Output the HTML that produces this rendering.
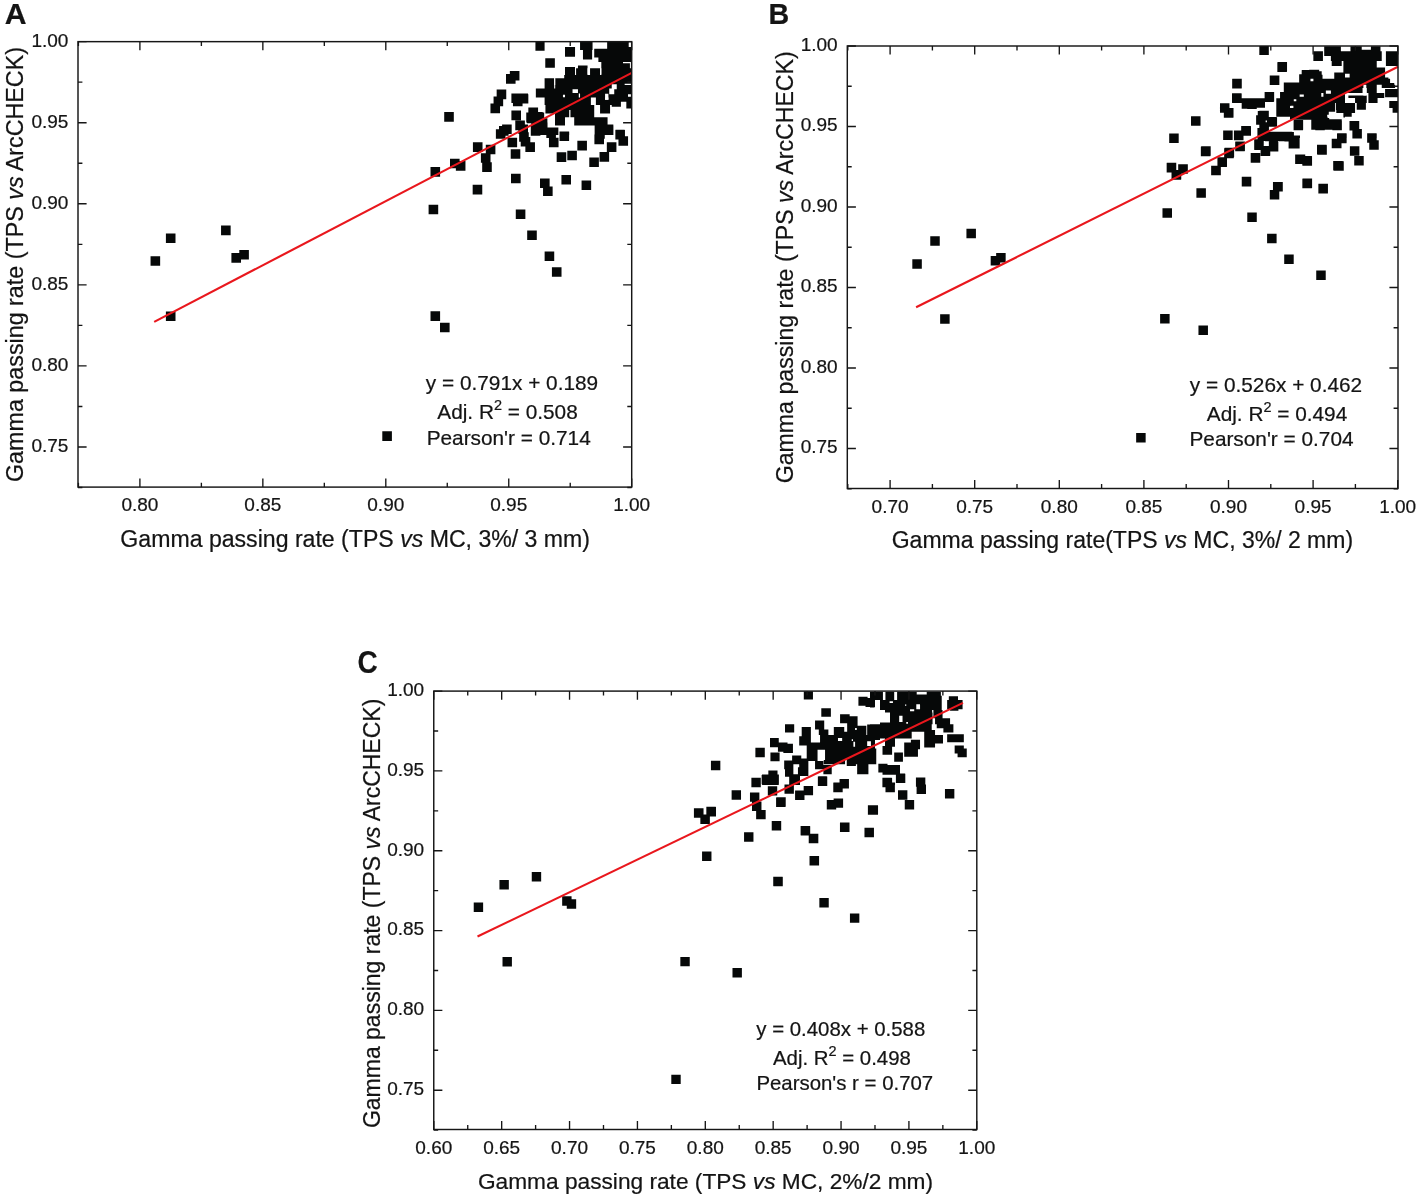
<!DOCTYPE html>
<html><head><meta charset="utf-8"><title>Gamma passing rate correlation</title>
<style>
html,body{margin:0;padding:0;background:#fff}
body{width:1418px;height:1199px;overflow:hidden}
svg{display:block;will-change:transform}
text{font-family:"Liberation Sans",sans-serif;fill:#141414;stroke:#141414;stroke-width:0.22px}
</style></head><body>
<svg width="1418" height="1199" viewBox="0 0 1418 1199">
<rect width="1418" height="1199" fill="#fff"/>
<g id="panelA">
<clipPath id="clipA"><rect x="78" y="41.65" width="553.7" height="445.45"/></clipPath>
<path clip-path="url(#clipA)" fill="#060808" d="M150.55 256.24h9.6v9.6h-9.6zM165.9 233.51h9.6v9.6h-9.6zM221.05 225.55h9.6v9.6h-9.6zM231.41 253.08h9.6v9.6h-9.6zM239.28 250.01h9.6v9.6h-9.6zM165.9 311.4h9.6v9.6h-9.6zM430.5 167.07h9.6v9.6h-9.6zM450 158.67h9.6v9.6h-9.6zM455.86 161.05h9.6v9.6h-9.6zM480.91 153.13h9.6v9.6h-9.6zM482.18 162.32h9.6v9.6h-9.6zM472.67 184.83h9.6v9.6h-9.6zM428.6 204.64h9.6v9.6h-9.6zM511.02 173.73h9.6v9.6h-9.6zM510.71 149.16h9.6v9.6h-9.6zM515.78 209.39h9.6v9.6h-9.6zM527.19 230.48h9.6v9.6h-9.6zM544.63 251.4h9.6v9.6h-9.6zM551.92 267.25h9.6v9.6h-9.6zM540.03 178.49h9.6v9.6h-9.6zM543.04 186.41h9.6v9.6h-9.6zM561.43 175h9.6v9.6h-9.6zM556.67 152.33h9.6v9.6h-9.6zM567.29 150.75h9.6v9.6h-9.6zM581.56 180.39h9.6v9.6h-9.6zM430.5 311.31h9.6v9.6h-9.6zM440.01 322.72h9.6v9.6h-9.6zM444.21 112.09h9.6v9.6h-9.6zM472.92 142.35h9.6v9.6h-9.6zM485.8 144.67h9.6v9.6h-9.6zM507.52 137.69h9.6v9.6h-9.6zM577.34 140.79h9.6v9.6h-9.6zM589.29 157.4h9.6v9.6h-9.6zM599.53 152.12h9.6v9.6h-9.6zM606.82 142.35h9.6v9.6h-9.6zM615.36 129.93h9.6v9.6h-9.6zM618.46 136.14h9.6v9.6h-9.6zM594.41 134.59h9.6v9.6h-9.6zM595.18 129.16h9.6v9.6h-9.6zM603.72 124.5h9.6v9.6h-9.6zM496.66 89.59h9.6v9.6h-9.6zM493.56 96.57h9.6v9.6h-9.6zM490.45 103.56h9.6v9.6h-9.6zM509.85 70.97h9.6v9.6h-9.6zM505.97 74.08h9.6v9.6h-9.6zM511.4 93.47h9.6v9.6h-9.6zM518.38 93.47h9.6v9.6h-9.6zM512.95 96.57h9.6v9.6h-9.6zM511.4 110.54h9.6v9.6h-9.6zM498.99 126.05h9.6v9.6h-9.6zM495.88 129.16h9.6v9.6h-9.6zM502.09 124.5h9.6v9.6h-9.6zM515.28 120.62h9.6v9.6h-9.6zM518.38 124.5h9.6v9.6h-9.6zM519.16 132.26h9.6v9.6h-9.6zM520.71 136.91h9.6v9.6h-9.6zM525.36 142.35h9.6v9.6h-9.6zM546.31 128.38h9.6v9.6h-9.6zM548.95 137.69h9.6v9.6h-9.6zM559.5 131.48h9.6v9.6h-9.6zM528.47 107.43h9.6v9.6h-9.6zM533.12 112.09h9.6v9.6h-9.6zM526.91 113.64h9.6v9.6h-9.6zM537.78 118.3h9.6v9.6h-9.6zM530.79 126.05h9.6v9.6h-9.6zM534.67 121.4h9.6v9.6h-9.6zM382.3 431.3h9.6v9.6h-9.6zM535.43 41.26H544.6V50.85H535.43zM565.03 47.09H575.04V56.68H565.03zM545.27 58.19H554.86V67.78H545.27zM580.05 41.26H592.56V50.01H580.05zM582.96 50.01H592.14V59.6H582.96zM607.15 41.26H628.84V49.18H607.15zM630.92 41.26H632.59V75.03H630.92zM628.84 47.09H632.59V49.18H628.84zM594.22 48.76H632.59V57.52H594.22zM598.39 57.52H632.59V62.11H598.39zM601.31 61.69H623V75.03H601.31zM623 63.36H629.92V68.36H623zM623 68.36H632.59V75.03H623zM565.03 67.11H575.04V78.37H565.03zM576.04 68.36H587.55V78.37H576.04zM577.96 65.44H587.55V68.36H577.96zM590.05 68.36H600.06V78.37H590.05zM564.2 75.03H632.59V78.37H564.2zM544.6 78.37H554.19V88.38H544.6zM555.19 78.37H611.74V88.38H555.19zM616.74 78.37H632.59V83.79H616.74zM616.74 85.04H632.59V89.21H616.74zM616.74 83.79H624.67V85.04H616.74zM630.92 83.79H632.59V85.04H630.92zM611.74 78.37H616.74V84.21H611.74zM535.84 88.38H572.54V97.55H535.84zM572.54 92.96H609.24V97.55H572.54zM577.96 88.38H609.24V93.38H577.96zM572.54 88.38H577.96V89.21H572.54zM614.24 89.21H632.59V97.55H614.24zM608.4 94.22H614.24V97.55H608.4zM544.6 97.55H590.89V105.06H544.6zM595.89 97.55H605.07V105.06H595.89zM608.4 97.55H620.91V105.06H608.4zM620.91 97.55H632.59V101.72H620.91zM626.33 101.72H632.59V105.06H626.33zM605.07 99.64H608.4V105.06H605.07zM545.43 105.06H594.22V110.06H545.43zM600.06 105.06H610.07V113.4H600.06zM611.74 105.06H620.91V106.73H611.74zM626.33 105.06H632.59V108.39H626.33zM528.34 107.56H537.93V117.15H528.34zM526.25 112.56H544.18V122.57H526.25zM545.43 110.06H569.2V113.4H545.43zM555.03 113.4H569.2V117.15H555.03zM570.45 110.06H594.22V117.15H570.45zM555.03 117.15H565.03V125.49H555.03zM574.21 117.15H607.57V125.49H574.21zM531.26 122.57H547.52V135H531.26zM545.85 127.58H558.36V135H545.85zM560.03 131.75H569.2V135H560.03zM594.64 125.49H613.41V135H594.64zM615.49 129.66H624.67V135H615.49zM520 94.22H528.34V103.39H520z"/>
<path fill="#fff" d="M605.07 93.8H608.4V99.64H605.07zM562.95 94.63H565.03V97.14H562.95zM578.79 93.38H580.05V97.55H578.79zM628 94.22H630.92V96.72H628zM554.19 78.37H555.19V85.04H554.19zM575.04 67.11H576.04V75.03H575.04zM587.55 68.36H588.8V74.62H587.55zM600.06 68.36H601.31V74.62H600.06zM628.84 42.51H630.75V47.09H628.84z"/>
<line x1="154.2" y1="321.9" x2="631.7" y2="72.9" stroke="#e9171d" stroke-width="2.15"/>
<path d="M78.42 487.1v-4.4M78.42 41.65v4.4M139.9 487.1v-8.6M139.9 41.65v8.6M201.38 487.1v-4.4M201.38 41.65v4.4M262.85 487.1v-8.6M262.85 41.65v8.6M324.32 487.1v-4.4M324.32 41.65v4.4M385.8 487.1v-8.6M385.8 41.65v8.6M447.27 487.1v-4.4M447.27 41.65v4.4M508.75 487.1v-8.6M508.75 41.65v8.6M570.23 487.1v-4.4M570.23 41.65v4.4M631.7 487.1v-8.6M631.7 41.65v8.6M78 41.65h8.6M631.7 41.65h-8.6M78 82.19h4.4M631.7 82.19h-4.4M78 122.72h8.6M631.7 122.72h-8.6M78 163.25h4.4M631.7 163.25h-4.4M78 203.79h8.6M631.7 203.79h-8.6M78 244.32h4.4M631.7 244.32h-4.4M78 284.86h8.6M631.7 284.86h-8.6M78 325.4h4.4M631.7 325.4h-4.4M78 365.93h8.6M631.7 365.93h-8.6M78 406.46h4.4M631.7 406.46h-4.4M78 447h8.6M631.7 447h-8.6M78 487.53h4.4M631.7 487.53h-4.4" stroke="#161616" stroke-width="1.35" fill="none"/>
<rect x="78" y="41.65" width="553.7" height="445.45" fill="none" stroke="#161616" stroke-width="1.45"/>
<text x="139.9" y="511.1" font-size="19" text-anchor="middle">0.80</text>
<text x="262.85" y="511.1" font-size="19" text-anchor="middle">0.85</text>
<text x="385.8" y="511.1" font-size="19" text-anchor="middle">0.90</text>
<text x="508.75" y="511.1" font-size="19" text-anchor="middle">0.95</text>
<text x="631.7" y="511.1" font-size="19" text-anchor="middle">1.00</text>
<text x="68.4" y="46.55" font-size="19" text-anchor="end">1.00</text>
<text x="68.4" y="127.62" font-size="19" text-anchor="end">0.95</text>
<text x="68.4" y="208.69" font-size="19" text-anchor="end">0.90</text>
<text x="68.4" y="289.76" font-size="19" text-anchor="end">0.85</text>
<text x="68.4" y="370.83" font-size="19" text-anchor="end">0.80</text>
<text x="68.4" y="451.9" font-size="19" text-anchor="end">0.75</text>
<text transform="translate(4.7 24.4) scale(1 1)" font-size="30.2" font-weight="bold" fill="#0c0c0c" stroke="#0c0c0c" stroke-width="0.35">A</text>
<text x="355.2" y="547.2" font-size="23.1" text-anchor="middle" xml:space="preserve">Gamma passing rate (TPS <tspan font-style='italic'>vs</tspan> MC, 3%/ 3 mm)</text>
<text transform="translate(23 264.5) rotate(-90)" font-size="23.3" text-anchor="middle" xml:space="preserve">Gamma passing rate (TPS <tspan font-style="italic">vs</tspan> ArcCHECK)</text>
<text x="512" y="390" font-size="20.8" text-anchor="middle" xml:space="preserve">y = 0.791x + 0.189</text>
<text x="507.5" y="418.5" font-size="20.8" text-anchor="middle" xml:space="preserve">Adj. R<tspan dy='-8.2' font-size='14.5'>2</tspan><tspan dy='8.2'> = 0.508</tspan></text>
<text x="508.7" y="445" font-size="20.8" text-anchor="middle" xml:space="preserve">Pearson'r = 0.714</text>
</g>
<g id="panelB">
<clipPath id="clipB"><rect x="847.3" y="46" width="550.7" height="442.5"/></clipPath>
<path clip-path="url(#clipB)" fill="#060808" d="M912.32 259.17h9.5v9.5h-9.5zM930.26 236.34h9.5v9.5h-9.5zM966.43 228.67h9.5v9.5h-9.5zM990.69 256.1h9.5v9.5h-9.5zM996.16 252.94h9.5v9.5h-9.5zM940.14 314.13h9.5v9.5h-9.5zM1166.76 162.69h9.5v9.5h-9.5zM1178.18 164.27h9.5v9.5h-9.5zM1171.52 170.29h9.5v9.5h-9.5zM1200.84 146.84h9.5v9.5h-9.5zM1224.62 147.63h9.5v9.5h-9.5zM1217.48 157.14h9.5v9.5h-9.5zM1211.14 165.86h9.5v9.5h-9.5zM1260.76 146.04h9.5v9.5h-9.5zM1250.77 153.18h9.5v9.5h-9.5zM1295.15 154.44h9.5v9.5h-9.5zM1302.28 156.03h9.5v9.5h-9.5zM1317.34 145.25h9.5v9.5h-9.5zM1333.19 161.1h9.5v9.5h-9.5zM1241.74 176.95h9.5v9.5h-9.5zM1196.4 188.36h9.5v9.5h-9.5zM1162.48 208.18h9.5v9.5h-9.5zM1272.96 182.02h9.5v9.5h-9.5zM1269.79 189.95h9.5v9.5h-9.5zM1302.6 178.54h9.5v9.5h-9.5zM1318.45 183.77h9.5v9.5h-9.5zM1247.28 212.61h9.5v9.5h-9.5zM1267.1 233.7h9.5v9.5h-9.5zM1284.21 254.62h9.5v9.5h-9.5zM1316.23 270.47h9.5v9.5h-9.5zM1160.11 314.06h9.5v9.5h-9.5zM1198.46 325.47h9.5v9.5h-9.5zM1259.32 45.48h9.5v9.5h-9.5zM1277.35 62.62h9.5v9.5h-9.5zM1269.73 75.57h9.5v9.5h-9.5zM1232.28 78.87h9.5v9.5h-9.5zM1232.03 93.34h9.5v9.5h-9.5zM1242.19 98.16h9.5v9.5h-9.5zM1247.26 99.43h9.5v9.5h-9.5zM1255.51 98.16h9.5v9.5h-9.5zM1264.65 92.07h9.5v9.5h-9.5zM1219.97 103.24h9.5v9.5h-9.5zM1224.03 107.93h9.5v9.5h-9.5zM1191.03 116.19h9.5v9.5h-9.5zM1169.2 133.45h9.5v9.5h-9.5zM1223.15 130.53h9.5v9.5h-9.5zM1233.93 130.53h9.5v9.5h-9.5zM1241.17 126.09h9.5v9.5h-9.5zM1201.19 146.14h9.5v9.5h-9.5zM1235.2 141.7h9.5v9.5h-9.5zM1224.16 148.3h9.5v9.5h-9.5zM1217.43 157.57h9.5v9.5h-9.5zM1211.34 165.82h9.5v9.5h-9.5zM1250.69 153h9.5v9.5h-9.5zM1166.66 162.9h9.5v9.5h-9.5zM1178.34 164.17h9.5v9.5h-9.5zM1171.74 169.88h9.5v9.5h-9.5zM1241.8 176.86h9.5v9.5h-9.5zM1273.29 181.94h9.5v9.5h-9.5zM1259.32 110.85h9.5v9.5h-9.5zM1256.15 115.3h9.5v9.5h-9.5zM1267.57 117.2h9.5v9.5h-9.5zM1259.32 122.28h9.5v9.5h-9.5zM1257.42 127.99h9.5v9.5h-9.5zM1265.03 131.8h9.5v9.5h-9.5zM1273.92 131.8h9.5v9.5h-9.5zM1282.81 131.8h9.5v9.5h-9.5zM1254.24 140.43h9.5v9.5h-9.5zM1268.84 141.95h9.5v9.5h-9.5zM1260.59 146.4h9.5v9.5h-9.5zM1232.17 79.01h9.5v9.5h-9.5zM1269.87 75.43h9.5v9.5h-9.5zM1277.54 62.08h9.5v9.5h-9.5zM1223.83 108.2h9.5v9.5h-9.5zM1293.64 119.88h9.5v9.5h-9.5zM1257.78 111.12h9.5v9.5h-9.5zM1256.11 115.29h9.5v9.5h-9.5zM1266.95 116.96h9.5v9.5h-9.5zM1259.45 122.8h9.5v9.5h-9.5zM1241.51 126.3h9.5v9.5h-9.5zM1234.01 130.72h9.5v9.5h-9.5zM1223.16 130.47h9.5v9.5h-9.5zM1235.43 141.56h9.5v9.5h-9.5zM1224.25 148.65h9.5v9.5h-9.5zM1250.69 152.99h9.5v9.5h-9.5zM1316.99 144.65h9.5v9.5h-9.5zM1295.73 154.49h9.5v9.5h-9.5zM1302.56 156.16h9.5v9.5h-9.5zM1332.01 138.81h9.5v9.5h-9.5zM1337.01 133.81h9.5v9.5h-9.5zM1334.26 161.33h9.5v9.5h-9.5zM1293.59 120.67h9.5v9.5h-9.5zM1315.28 120.67h9.5v9.5h-9.5zM1323.2 120.25h9.5v9.5h-9.5zM1332.37 120.67h9.5v9.5h-9.5zM1349.47 121.08h9.5v9.5h-9.5zM1352.39 129.01h9.5v9.5h-9.5zM1284.42 131.93h9.5v9.5h-9.5zM1289.84 135.68h9.5v9.5h-9.5zM1288.59 139.02h9.5v9.5h-9.5zM1337.13 133.34h9.5v9.5h-9.5zM1331.71 138.77h9.5v9.5h-9.5zM1317.11 144.85h9.5v9.5h-9.5zM1367.15 133.34h9.5v9.5h-9.5zM1369.24 140.27h9.5v9.5h-9.5zM1349.89 146.27h9.5v9.5h-9.5zM1354.22 156.11h9.5v9.5h-9.5zM1295.26 154.45h9.5v9.5h-9.5zM1302.35 156.11h9.5v9.5h-9.5zM1334.04 161.28h9.5v9.5h-9.5zM1302.35 178.63h9.5v9.5h-9.5zM1318.36 184.05h9.5v9.5h-9.5zM1136.15 433.05h9.5v9.5h-9.5zM1324.2 46.34H1340.88V55.93H1324.2zM1350.47 46.34H1361.73V60.94H1350.47zM1370.9 46.34H1380.49V60.94H1370.9zM1313.35 51.34H1322.94V60.94H1313.35zM1330.87 51.34H1381.74V60.94H1330.87zM1340.88 52.6H1350.47V55.93H1340.88zM1361.73 49.68H1370.9V60.94H1361.73zM1385.91 51.34H1398.42V65.94H1385.91zM1331.7 60.94H1341.71V65.94H1331.7zM1343.38 60.94H1376.74V70.11H1343.38zM1373.4 67.61H1385.08V74.7H1373.4zM1309.18 69.69H1319.19V74.7H1309.18zM1301.68 71.36H1321.69V74.7H1301.68zM1335.04 72.61H1343.38V78.87H1335.04zM1343.38 70.11H1373.4V73.86H1343.38zM1349.63 73.86H1385.08V77.62H1349.63zM1343.38 73.86H1344.21V77.62H1343.38zM1343.38 77.62H1388.42V78.87H1343.38zM1299.17 74.7H1322.53V78.87H1299.17zM1299.17 78.87H1390.08V83.04H1299.17zM1290 83.04H1376.74V88.04H1290zM1381.74 84.71H1395.09V88.04H1381.74zM1376.74 83.04H1394.25V84.71H1376.74zM1290 88.04H1362.56V93.05H1290zM1366.73 88.04H1376.74V93.05H1366.73zM1385.08 88.88H1398.42V97.22H1385.08zM1290 93.05H1344.21V103.05H1290zM1348.38 95.55H1366.73V98.05H1348.38zM1355.05 98.05H1366.73V103.05H1355.05zM1368.4 93.05H1377.57V103.05H1368.4zM1377.57 93.05H1384.25V98.05H1377.57zM1389.25 100.97H1398.42V108.06H1389.25zM1290 103.05H1335.04V109.73H1290zM1336.29 103.05H1355.05V113.06H1336.29zM1356.72 103.05H1365.9V109.73H1356.72zM1392.59 108.06H1398.42V112.65H1392.59zM1290 109.73H1328.78V114.73H1290zM1343.38 113.06H1351.72V116.82H1343.38zM1290 114.73H1326.7V119.73H1290zM1294.17 120.57H1302.93V129.74H1294.17zM1311.27 119.73H1341.71V129.74H1311.27zM1311.27 118.07H1329.2V119.73H1311.27zM1350.05 120.99H1359.22V128.91H1350.05zM1355.05 128.91H1361.73V138H1355.05zM1290 132.25H1292.5V138H1290zM1292.5 135.58H1300.01V138H1292.5zM1337.54 133.91H1346.71V138H1337.54zM1367.15 133.91H1376.74V138H1367.15zM1232.09 93.77H1241.68V102.94H1232.09zM1241.68 98.36H1255.02V108.78H1241.68zM1255.02 98.36H1265.03V107.53H1255.02zM1264.61 92.1H1273.79V102.11H1264.61zM1283.79 82.51H1297.56V92.52H1283.79zM1299.22 74.17H1321.74V82.51H1299.22zM1301.73 70H1318.41V74.17H1301.73zM1321.74 79.17H1334.25V82.51H1321.74zM1334.25 72.5H1345.01V80.84H1334.25zM1297.56 82.51H1345.01V92.52H1297.56zM1280.04 92.1H1345.01V98.36H1280.04zM1276.29 98.36H1335.09V111.7H1276.29zM1276.29 111.7H1327.16V116.71H1276.29zM1335.92 98.36H1345.01V110.03H1335.92zM1343.43 110.03H1345.01V117.54H1343.43zM1295.05 116.71H1327.58V119.21H1295.05zM1311.32 119.21H1327.58V129.63H1311.32zM1327.58 119.21H1341.76V129.63H1327.58zM1257.52 132.14H1292.14V140.89H1257.52zM1289.63 136.31H1299.64V148.4H1289.63zM1254.19 139.22H1262.94V149.23H1254.19zM1269.2 140.89H1277.96V150.9H1269.2zM1261.28 145.9H1270.03V155.49H1261.28zM1254.19 140.89H1262.94V149.23H1254.19zM1268.78 139.22H1277.96V141.73H1268.78z"/>
<path fill="#fff" d="M1310.85 78.87H1313.35V80.95H1310.85zM1325.86 90.54H1330.87V93.46H1325.86zM1321.28 93.05H1323.36V96.8H1321.28zM1300.01 94.71H1303.76V96.8H1300.01zM1363.39 84.71H1366.31V95.55H1363.39zM1290 105.97H1293.34V108.06H1290zM1310.48 78.76H1313.4V81.26H1310.48zM1299.64 94.6H1303.81V96.69H1299.64zM1321.33 92.94H1323.41V96.69H1321.33zM1325.91 91.27H1330.92V93.77H1325.91zM1290.47 105.86H1293.39V107.95H1290.47zM1293.8 99.19H1296.31V101.28H1293.8z"/>
<line x1="916.1" y1="307.3" x2="1398" y2="66.7" stroke="#e9171d" stroke-width="2.15"/>
<path d="M847.8 488.5v-4.4M847.8 46v4.4M890.1 488.5v-8.6M890.1 46v8.6M932.4 488.5v-4.4M932.4 46v4.4M974.7 488.5v-8.6M974.7 46v8.6M1017 488.5v-4.4M1017 46v4.4M1059.3 488.5v-8.6M1059.3 46v8.6M1101.6 488.5v-4.4M1101.6 46v4.4M1143.9 488.5v-8.6M1143.9 46v8.6M1186.2 488.5v-4.4M1186.2 46v4.4M1228.5 488.5v-8.6M1228.5 46v8.6M1270.8 488.5v-4.4M1270.8 46v4.4M1313.1 488.5v-8.6M1313.1 46v8.6M1355.4 488.5v-4.4M1355.4 46v4.4M1397.7 488.5v-8.6M1397.7 46v8.6M847.3 46h8.6M1398 46h-8.6M847.3 86.25h4.4M1398 86.25h-4.4M847.3 126.5h8.6M1398 126.5h-8.6M847.3 166.75h4.4M1398 166.75h-4.4M847.3 207h8.6M1398 207h-8.6M847.3 247.25h4.4M1398 247.25h-4.4M847.3 287.5h8.6M1398 287.5h-8.6M847.3 327.75h4.4M1398 327.75h-4.4M847.3 368h8.6M1398 368h-8.6M847.3 408.25h4.4M1398 408.25h-4.4M847.3 448.5h8.6M1398 448.5h-8.6M847.3 488.75h4.4M1398 488.75h-4.4" stroke="#161616" stroke-width="1.35" fill="none"/>
<rect x="847.3" y="46" width="550.7" height="442.5" fill="none" stroke="#161616" stroke-width="1.45"/>
<text x="890.1" y="512.5" font-size="19" text-anchor="middle">0.70</text>
<text x="974.7" y="512.5" font-size="19" text-anchor="middle">0.75</text>
<text x="1059.3" y="512.5" font-size="19" text-anchor="middle">0.80</text>
<text x="1143.9" y="512.5" font-size="19" text-anchor="middle">0.85</text>
<text x="1228.5" y="512.5" font-size="19" text-anchor="middle">0.90</text>
<text x="1313.1" y="512.5" font-size="19" text-anchor="middle">0.95</text>
<text x="1397.7" y="512.5" font-size="19" text-anchor="middle">1.00</text>
<text x="837.7" y="50.9" font-size="19" text-anchor="end">1.00</text>
<text x="837.7" y="131.4" font-size="19" text-anchor="end">0.95</text>
<text x="837.7" y="211.9" font-size="19" text-anchor="end">0.90</text>
<text x="837.7" y="292.4" font-size="19" text-anchor="end">0.85</text>
<text x="837.7" y="372.9" font-size="19" text-anchor="end">0.80</text>
<text x="837.7" y="453.4" font-size="19" text-anchor="end">0.75</text>
<text transform="translate(768.4 24.4) scale(0.95 1)" font-size="30.2" font-weight="bold" fill="#0c0c0c" stroke="#0c0c0c" stroke-width="0.35">B</text>
<text x="1122.4" y="548.3" font-size="23.0" text-anchor="middle" xml:space="preserve">Gamma passing rate(TPS <tspan font-style='italic'>vs</tspan> MC, 3%/ 2 mm)</text>
<text transform="translate(792.6 267.3) rotate(-90)" font-size="23.15" text-anchor="middle" xml:space="preserve">Gamma passing rate (TPS <tspan font-style="italic">vs</tspan> ArcCHECK)</text>
<text x="1276" y="392" font-size="20.8" text-anchor="middle" xml:space="preserve">y = 0.526x + 0.462</text>
<text x="1277" y="420.5" font-size="20.8" text-anchor="middle" xml:space="preserve">Adj. R<tspan dy='-8.2' font-size='14.5'>2</tspan><tspan dy='8.2'> = 0.494</tspan></text>
<text x="1271.5" y="446" font-size="20.8" text-anchor="middle" xml:space="preserve">Pearson'r = 0.704</text>
</g>
<g id="panelC">
<clipPath id="clipC"><rect x="433.76" y="691.1" width="543.04" height="438.4"/></clipPath>
<path clip-path="url(#clipC)" fill="#060808" d="M473.73 902.49h9.4v9.4h-9.4zM499.44 880.05h9.4v9.4h-9.4zM531.76 872.09h9.4v9.4h-9.4zM562.17 896.36h9.4v9.4h-9.4zM566.77 899.23h9.4v9.4h-9.4zM502.51 956.98h9.4v9.4h-9.4zM761.97 774.47h9.4v9.4h-9.4zM769.48 774.47h9.4v9.4h-9.4zM789.91 775.3h9.4v9.4h-9.4zM767.81 786.14h9.4v9.4h-9.4zM784.49 784.47h9.4v9.4h-9.4zM803.67 785.89h9.4v9.4h-9.4zM795.08 790.48h9.4v9.4h-9.4zM817.85 776.55h9.4v9.4h-9.4zM839.54 779.05h9.4v9.4h-9.4zM833.28 782.97h9.4v9.4h-9.4zM776.32 797.15h9.4v9.4h-9.4zM833.7 798.4h9.4v9.4h-9.4zM826.78 800.07h9.4v9.4h-9.4zM756.13 809.91h9.4v9.4h-9.4zM867.89 805.33h9.4v9.4h-9.4zM771.73 821h9.4v9.4h-9.4zM800.59 825.93h9.4v9.4h-9.4zM808.93 833.85h9.4v9.4h-9.4zM840.12 822.59h9.4v9.4h-9.4zM864.56 827.84h9.4v9.4h-9.4zM809.68 856.03h9.4v9.4h-9.4zM773.23 876.63h9.4v9.4h-9.4zM710.94 760.75h9.4v9.4h-9.4zM755.39 747.82h9.4v9.4h-9.4zM751.39 777.84h9.4v9.4h-9.4zM761.65 774.92h9.4v9.4h-9.4zM731.62 790.35h9.4v9.4h-9.4zM749.97 792.44h9.4v9.4h-9.4zM752.06 801.61h9.4v9.4h-9.4zM756.23 809.95h9.4v9.4h-9.4zM693.92 808.29h9.4v9.4h-9.4zM706.6 807.03h9.4v9.4h-9.4zM700.35 814.54h9.4v9.4h-9.4zM694.13 808.3h9.4v9.4h-9.4zM706.34 806.71h9.4v9.4h-9.4zM700.47 814.64h9.4v9.4h-9.4zM751.99 801.64h9.4v9.4h-9.4zM756.27 809.88h9.4v9.4h-9.4zM776.08 797.68h9.4v9.4h-9.4zM771.8 820.98h9.4v9.4h-9.4zM744.06 832.23h9.4v9.4h-9.4zM702.06 851.57h9.4v9.4h-9.4zM800.81 826.21h9.4v9.4h-9.4zM808.73 833.82h9.4v9.4h-9.4zM809.52 856.01h9.4v9.4h-9.4zM839.96 822.56h9.4v9.4h-9.4zM864.52 827.79h9.4v9.4h-9.4zM868.49 805.13h9.4v9.4h-9.4zM826.8 800.06h9.4v9.4h-9.4zM833.62 798.47h9.4v9.4h-9.4zM773.39 876.93h9.4v9.4h-9.4zM819.35 898.01h9.4v9.4h-9.4zM849.94 913.39h9.4v9.4h-9.4zM680.34 956.97h9.4v9.4h-9.4zM732.49 968.07h9.4v9.4h-9.4zM882.4 777.81h9.4v9.4h-9.4zM885.48 782.81h9.4v9.4h-9.4zM895.91 773.64h9.4v9.4h-9.4zM915.93 777.39h9.4v9.4h-9.4zM916.59 784.48h9.4v9.4h-9.4zM897.99 790.32h9.4v9.4h-9.4zM904.75 800.07h9.4v9.4h-9.4zM944.95 789.07h9.4v9.4h-9.4zM868.64 805.33h9.4v9.4h-9.4zM864.47 827.85h9.4v9.4h-9.4zM671.3 1074.7h9.4v9.4h-9.4zM870 691.67H882.93V700.01H870zM885.43 691.67H894.19V700.01H885.43zM897.11 691.67H916.71V700.01H897.11zM916.71 694.59H926.71V700.01H916.71zM926.71 691.67H940.89V700.01H926.71zM940.89 695.84H941.73V700.01H940.89zM870 700.01H874.59V707.52H870zM880.01 700.01H941.73V710.02H880.01zM948.82 696.26H957.99V700.01H948.82zM947.15 700.01H962.58V709.19H947.15zM950.07 709.19H958.41V710.85H950.07zM885.01 710.02H932.14V712.52H885.01zM890.02 712.52H932.55V724.2H890.02zM880.01 722.53H890.02V724.2H880.01zM870 724.2H931.72V731.71H870zM870 731.71H890.02V735.04H870zM933.39 710.02H942.56V718.36H933.39zM935.05 718.36H950.07V724.2H935.05zM936.72 724.2H953.4V728.37H936.72zM943.39 728.37H953.4V732.54H943.39zM870 731.71H911.7V738.38H870zM870 738.38H880.01V740.05H870zM885.01 738.38H895.02V746.72H885.01zM882.51 745.88H892.1V754.64H882.51zM866.66 748.39H876.26V764.23H866.66zM924.21 730.04H935.05V747.55H924.21zM935.05 735.04H942.98V743.38H935.05zM910.87 739.63H920.04V749.22H910.87zM904.2 742.55H913.37V751.72H904.2zM904.2 748.39H917.96V756.73H904.2zM894.19 752.56H902.94V761.73H894.19zM947.15 734.21H963.83V742.13H947.15zM954.65 745.47H963.83V753.39H954.65zM957.57 748.39H966.75V757.14H957.57zM878.34 763.82H887.51V772.57H878.34zM882.51 765.07H900.03V774.66H882.51zM896.69 773.41H905.03V782.58H896.69zM882.51 777.99H892.1V785H882.51zM892.1 782.58H895.02V785H892.1zM916.29 777.58H925.05V785H916.29zM803.79 691.26H812.96V699.6H803.79zM858.42 696.68H867.59V705.85H858.42zM865.5 697.93H875.01V707.1H865.5zM821.3 708.35H830.89V716.69H821.3zM785.02 724.2H794.2V732.54H785.02zM840.07 714.19H849.66V723.37H840.07zM847.16 716.28H857.58V735.04H847.16zM844.24 731.71H847.16V735.04H844.24zM815.05 720.45H824.22V729.62H815.05zM818.8 729.62H828.39V735.04H818.8zM801.7 727.12H810.88V736.71H801.7zM799.2 736.29H810.88V745.47H799.2zM833.81 727.12H844.24V735.04H833.81zM867.17 724.62H875.01V743.38H867.17zM857.58 725.87H866.34V735.04H857.58zM806.71 742.55H817.55V760.9H806.71zM817.55 742.55H825.05V749.64H817.55zM825.05 735.04H875.01V760.06H825.05zM820.05 735.04H825.05V742.55H820.05zM823.8 760.06H845.07V764.23H823.8zM815.05 760.9H823.39V769.24H815.05zM823.39 765.07H831.73V774.24H823.39zM846.74 760.06H855.91V765.9H846.74zM857.16 763.4H868.42V774.24H857.16zM855.91 755.89H875.01V764.23H855.91zM770.01 737.96H778.77V747.14H770.01zM777.93 742.55H787.52V751.72H777.93zM783.35 743.8H792.94V752.97H783.35zM755.41 748.39H764.59V756.73H755.41zM770.43 752.56H779.6V761.31H770.43zM792.11 755.48H801.28V764.23H792.11zM784.19 760.48H793.36V769.24H784.19zM799.2 758.39H808.37V768.4H799.2zM785.02 768.4H793.36V776.74H785.02zM797.95 767.15H808.37V775.91H797.95zM789.19 774.24H800.03V785H789.19zM793.36 774.24H797.95V776.74H793.36zM768.34 770.49H777.51V779.25H768.34zM762.09 774.66H778.77V785H762.09zM818.38 776.33H826.72V785H818.38zM839.65 780.08H848.41V785H839.65zM833.39 782.58H840.07V785H833.39z"/>
<path fill="#fff" d="M889.6 701.26H892.94V702.93H889.6zM916.29 704.18H920.04V709.19H916.29zM910.03 709.19H914.2V711.27H910.03zM905.03 704.6H906.28V705.85H905.03zM899.19 715.86H902.53V722.11H899.19zM906.28 722.11H907.95V723.78H906.28zM837.98 737.96H842.15V740.88H837.98zM867.17 741.3H870.93V745.88H867.17zM851.74 739.21H852.99V740.88H851.74zM853.41 741.71H855.08V746.72H853.41zM855.08 727.95H856.75V730.04H855.08z"/>
<line x1="477.5" y1="936.5" x2="963" y2="702.9" stroke="#e9171d" stroke-width="2.15"/>
<path d="M433.8 1129.5v-8.6M433.8 691.1v8.6M467.74 1129.5v-4.4M467.74 691.1v4.4M501.68 1129.5v-8.6M501.68 691.1v8.6M535.61 1129.5v-4.4M535.61 691.1v4.4M569.55 1129.5v-8.6M569.55 691.1v8.6M603.49 1129.5v-4.4M603.49 691.1v4.4M637.43 1129.5v-8.6M637.43 691.1v8.6M671.36 1129.5v-4.4M671.36 691.1v4.4M705.3 1129.5v-8.6M705.3 691.1v8.6M739.24 1129.5v-4.4M739.24 691.1v4.4M773.17 1129.5v-8.6M773.17 691.1v8.6M807.11 1129.5v-4.4M807.11 691.1v4.4M841.05 1129.5v-8.6M841.05 691.1v8.6M874.99 1129.5v-4.4M874.99 691.1v4.4M908.92 1129.5v-8.6M908.92 691.1v8.6M942.86 1129.5v-4.4M942.86 691.1v4.4M976.8 1129.5v-8.6M976.8 691.1v8.6M433.76 691.1h8.6M976.8 691.1h-8.6M433.76 731.01h4.4M976.8 731.01h-4.4M433.76 770.92h8.6M976.8 770.92h-8.6M433.76 810.83h4.4M976.8 810.83h-4.4M433.76 850.74h8.6M976.8 850.74h-8.6M433.76 890.65h4.4M976.8 890.65h-4.4M433.76 930.56h8.6M976.8 930.56h-8.6M433.76 970.47h4.4M976.8 970.47h-4.4M433.76 1010.38h8.6M976.8 1010.38h-8.6M433.76 1050.29h4.4M976.8 1050.29h-4.4M433.76 1090.2h8.6M976.8 1090.2h-8.6M433.76 1130.11h4.4M976.8 1130.11h-4.4" stroke="#161616" stroke-width="1.35" fill="none"/>
<rect x="433.76" y="691.1" width="543.04" height="438.4" fill="none" stroke="#161616" stroke-width="1.45"/>
<text x="433.8" y="1153.5" font-size="19" text-anchor="middle">0.60</text>
<text x="501.68" y="1153.5" font-size="19" text-anchor="middle">0.65</text>
<text x="569.55" y="1153.5" font-size="19" text-anchor="middle">0.70</text>
<text x="637.43" y="1153.5" font-size="19" text-anchor="middle">0.75</text>
<text x="705.3" y="1153.5" font-size="19" text-anchor="middle">0.80</text>
<text x="773.17" y="1153.5" font-size="19" text-anchor="middle">0.85</text>
<text x="841.05" y="1153.5" font-size="19" text-anchor="middle">0.90</text>
<text x="908.92" y="1153.5" font-size="19" text-anchor="middle">0.95</text>
<text x="976.8" y="1153.5" font-size="19" text-anchor="middle">1.00</text>
<text x="424.16" y="696" font-size="19" text-anchor="end">1.00</text>
<text x="424.16" y="775.82" font-size="19" text-anchor="end">0.95</text>
<text x="424.16" y="855.64" font-size="19" text-anchor="end">0.90</text>
<text x="424.16" y="935.46" font-size="19" text-anchor="end">0.85</text>
<text x="424.16" y="1015.28" font-size="19" text-anchor="end">0.80</text>
<text x="424.16" y="1095.1" font-size="19" text-anchor="end">0.75</text>
<text transform="translate(357.5 673) scale(0.9 1)" font-size="31.0" font-weight="bold" fill="#0c0c0c" stroke="#0c0c0c" stroke-width="0.35">C</text>
<text x="705.5" y="1189" font-size="22.7" text-anchor="middle" xml:space="preserve">Gamma passing rate (TPS <tspan font-style='italic'>vs</tspan> MC, 2%/2 mm)</text>
<text transform="translate(379.8 913.4) rotate(-90)" font-size="23.0" text-anchor="middle" xml:space="preserve">Gamma passing rate (TPS <tspan font-style="italic">vs</tspan> ArcCHECK)</text>
<text x="840.8" y="1035.9" font-size="20.4" text-anchor="middle" xml:space="preserve">y = 0.408x + 0.588</text>
<text x="841.9" y="1064.6" font-size="20.4" text-anchor="middle" xml:space="preserve">Adj. R<tspan dy='-8.2' font-size='14.5'>2</tspan><tspan dy='8.2'> = 0.498</tspan></text>
<text x="844.8" y="1090.1" font-size="20.4" text-anchor="middle" xml:space="preserve">Pearson's r = 0.707</text>
</g>
</svg>
</body></html>
